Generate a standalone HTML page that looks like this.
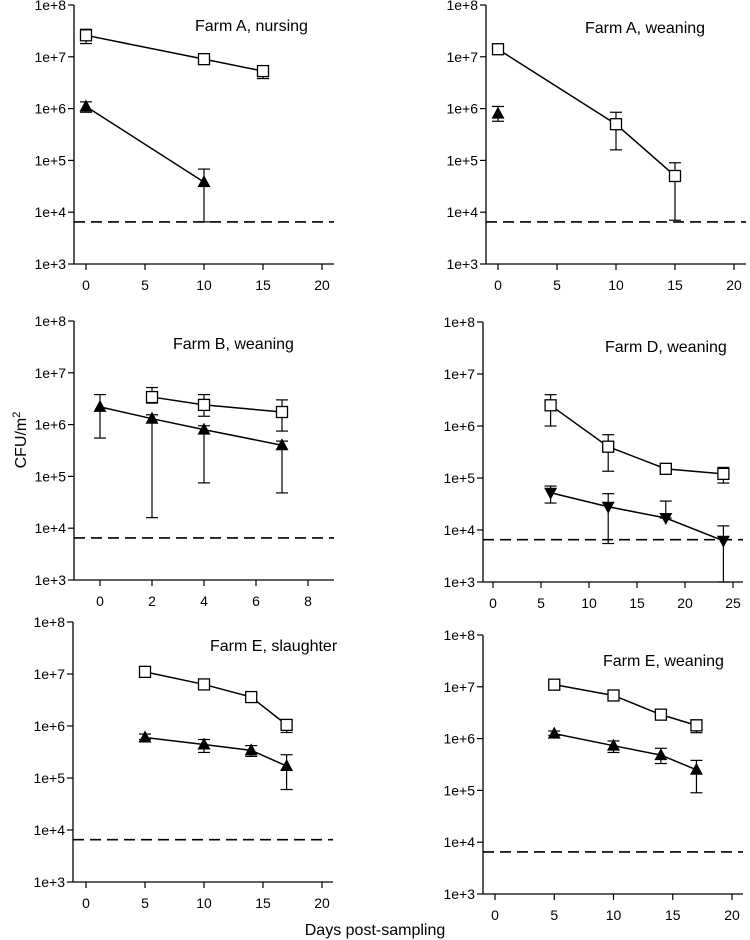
<!DOCTYPE html>
<html><head><meta charset="utf-8"><style>
body{margin:0;background:#fff;}
svg{display:block;font-family:"Liberation Sans",sans-serif;}
</style></head><body>
<svg id="chart" width="750" height="940" viewBox="0 0 750 940">
<text x="375" y="935" text-anchor="middle" font-size="16">Days post-sampling</text>
<text transform="translate(26,440) rotate(-90)" text-anchor="middle" font-size="16">CFU/m<tspan dy="-6" font-size="11">2</tspan></text>
</svg>
<script>
// ---- data (days, CFU/m2) ----
const detectionLimit = 6500;
const yTickLabels = ["1e+3","1e+4","1e+5","1e+6","1e+7","1e+8"];

const aNursSqX = [0,10,15];
const aNursSqY = [2.6e7,9e6,5.3e6];
const aNursSqLo = [1.8e7,7.5e6,3.8e6];
const aNursSqHi = [3.4e7,1.05e7,6.5e6];
const aNursTrX = [0,10];
const aNursTrY = [1.1e6,3.8e4];
const aNursTrLo = [8.5e5,6.5e3];
const aNursTrHi = [1.35e6,6.8e4];

const aWeanSqX = [0,10,15];
const aWeanSqY = [1.4e7,5e5,5e4];
const aWeanSqLo = [1.3e7,1.6e5,7e3];
const aWeanSqHi = [1.5e7,8.5e5,9e4];
const aWeanTrX = [0];
const aWeanTrY = [8e5];
const aWeanTrLo = [5.7e5];
const aWeanTrHi = [1.1e6];

const bWeanSqX = [2,4,7];
const bWeanSqY = [3.4e6,2.4e6,1.75e6];
const bWeanSqLo = [2.6e6,1.45e6,7.5e5];
const bWeanSqHi = [5.2e6,3.8e6,3e6];
const bWeanTrX = [0,2,4,7];
const bWeanTrY = [2.2e6,1.3e6,8e5,4e5];
const bWeanTrLo = [5.5e5,1.6e4,7.5e4,4.8e4];
const bWeanTrHi = [3.8e6,1.55e6,9.5e5,4.8e5];

const dWeanSqX = [6,12,18,24];
const dWeanSqY = [2.5e6,4e5,1.5e5,1.2e5];
const dWeanSqLo = [1e6,1.35e5,1.4e5,8e4];
const dWeanSqHi = [4e6,6.8e5,1.6e5,1.6e5];
const dWeanTrX = [6,12,18,24];
const dWeanTrY = [5.2e4,2.8e4,1.7e4,6.2e3];
const dWeanTrLo = [3.3e4,5.5e3,1.7e4,1e3];
const dWeanTrHi = [7e4,5e4,3.6e4,1.2e4];

const eSlauSqX = [5,10,14,17];
const eSlauSqY = [1.1e7,6.3e6,3.6e6,1.05e6];
const eSlauSqLo = [1.05e7,6e6,3.2e6,7.5e5];
const eSlauSqHi = [1.15e7,6.6e6,4e6,1.3e6];
const eSlauTrX = [5,10,14,17];
const eSlauTrY = [6e5,4.4e5,3.4e5,1.7e5];
const eSlauTrLo = [5.5e5,3.1e5,2.6e5,6e4];
const eSlauTrHi = [7e5,5.5e5,4.2e5,2.8e5];

const eWeanSqX = [5,10,14,17];
const eWeanSqY = [1.1e7,6.8e6,2.9e6,1.8e6];
const eWeanSqLo = [1.05e7,6.4e6,2.7e6,1.3e6];
const eWeanSqHi = [1.15e7,7.2e6,3.1e6,2.3e6];
const eWeanTrX = [5,10,14,17];
const eWeanTrY = [1.25e6,7.3e5,4.8e5,2.5e5];
const eWeanTrLo = [1.15e6,5.4e5,3.3e5,9e4];
const eWeanTrHi = [1.4e6,9e5,6.5e5,3.8e5];

const NS = "http://www.w3.org/2000/svg";
const svg = document.getElementById("chart");
function mk(tag, attrs, parent){
  const e = document.createElementNS(NS, tag);
  for (const k in attrs) e.setAttribute(k, attrs[k]);
  (parent||svg).appendChild(e);
  return e;
}

function panel(p){
  const g = mk("g", {});
  
  
  const yS = v => p.bot - (Math.log10(v) - 3) / 5 * (p.bot - p.top);
  const xS = v => p.x0 + (v - p.xTicks[0]) / (p.xTicks[p.xTicks.length-1] - p.xTicks[0]) * (p.x1 - p.x0);
  const ya = mk("line", {x1:p.ax, y1:p.top, x2:p.ax, y2:p.bot, stroke:"#000","stroke-width":1.3}, g);
  
  
  const xa = mk("line", {x1:p.ax, y1:p.bot, x2:p.axEnd, y2:p.bot, stroke:"#000","stroke-width":1.3}, g);
  
  
  yTickLabels.forEach((lab, i) => {
    const y = yS(Math.pow(10, i+3));
    mk("line", {x1:p.ax-6, y1:y, x2:p.ax, y2:y, stroke:"#000","stroke-width":1.2}, g);
    const t = mk("text", {x:p.ax-8, y:y+5, "text-anchor":"end","font-size":14}, g);
    t.textContent = lab;
    
    
  });
  p.xTicks.forEach(v => {
    const x = xS(v);
    mk("line", {x1:x, y1:p.bot, x2:x, y2:p.bot+6, stroke:"#000","stroke-width":1.2}, g);
    const t = mk("text", {x:x, y:p.bot+26, "text-anchor":"middle","font-size":14}, g);
    t.textContent = v;
    
    
  });
  const dl = mk("line", {x1:p.ax, y1:yS(detectionLimit), x2:p.axEnd, y2:yS(detectionLimit), stroke:"#000","stroke-width":1.6,"stroke-dasharray":"11,6"}, g);
  
  
  const ti = mk("text", {x:p.tx, y:p.ty, "font-size":16}, g);
  ti.textContent = p.title;
  
  

  p.series.forEach(s => {
    s.x.forEach((xv, i) => {
      const x = xS(xv);
      const eb = mk("g", {stroke:"#000","stroke-width":1.2}, g);
      
      
      mk("line", {x1:x, y1:yS(s.lo[i]), x2:x, y2:yS(s.hi[i])}, eb);
      mk("line", {x1:x-6, y1:yS(s.lo[i]), x2:x+6, y2:yS(s.lo[i])}, eb);
      mk("line", {x1:x-6, y1:yS(s.hi[i]), x2:x+6, y2:yS(s.hi[i])}, eb);
    });
    if (s.x.length > 1) {
      const pl = mk("polyline", {points:s.x.map((xv,i)=>xS(xv)+","+yS(s.y[i])).join(" "), fill:"none", stroke:"#000","stroke-width":1.5}, g);
      
      
    }
    s.x.forEach((xv, i) => {
      const x = xS(xv), y = yS(s.y[i]);
      let m;
      if (s.kind === "sq") {
        m = mk("rect", {x:x-5.5, y:y-5.5, width:11, height:11, fill:"#fff", stroke:"#000","stroke-width":1.3}, g);
      } else if (s.kind === "tri") {
        m = mk("polygon", {points:`${x},${y-7} ${x-6.5},${y+5} ${x+6.5},${y+5}`, fill:"#000"}, g);
      } else {
        m = mk("polygon", {points:`${x},${y+7} ${x-6.5},${y-5} ${x+6.5},${y-5}`, fill:"#000"}, g);
      }
      
      
    });
  });
}

panel({name:"panel-farm-a-nursing", title:"Farm A, nursing", tx:195, ty:31, ax:74, axEnd:334, top:5, bot:264, x0:86, x1:322, xTicks:[0,5,10,15,20],
  series:[{kind:"sq",x:aNursSqX,y:aNursSqY,lo:aNursSqLo,hi:aNursSqHi},{kind:"tri",x:aNursTrX,y:aNursTrY,lo:aNursTrLo,hi:aNursTrHi}]});
panel({name:"panel-farm-a-weaning", title:"Farm A, weaning", tx:585, ty:33, ax:486, axEnd:746, top:5, bot:264, x0:498, x1:734, xTicks:[0,5,10,15,20],
  series:[{kind:"sq",x:aWeanSqX,y:aWeanSqY,lo:aWeanSqLo,hi:aWeanSqHi},{kind:"tri",x:aWeanTrX,y:aWeanTrY,lo:aWeanTrLo,hi:aWeanTrHi}]});
panel({name:"panel-farm-b-weaning", title:"Farm B, weaning", tx:173, ty:349, ax:74, axEnd:334, top:321, bot:580, x0:100, x1:308, xTicks:[0,2,4,6,8],
  series:[{kind:"sq",x:bWeanSqX,y:bWeanSqY,lo:bWeanSqLo,hi:bWeanSqHi},{kind:"tri",x:bWeanTrX,y:bWeanTrY,lo:bWeanTrLo,hi:bWeanTrHi}]});
panel({name:"panel-farm-d-weaning", title:"Farm D, weaning", tx:605, ty:352, ax:483, axEnd:743, top:322, bot:582, x0:493, x1:733, xTicks:[0,5,10,15,20,25],
  series:[{kind:"sq",x:dWeanSqX,y:dWeanSqY,lo:dWeanSqLo,hi:dWeanSqHi},{kind:"dtri",x:dWeanTrX,y:dWeanTrY,lo:dWeanTrLo,hi:dWeanTrHi}]});
panel({name:"panel-farm-e-slaughter", title:"Farm E, slaughter", tx:210, ty:651, ax:73, axEnd:333, top:622, bot:882, x0:86, x1:322, xTicks:[0,5,10,15,20],
  series:[{kind:"sq",x:eSlauSqX,y:eSlauSqY,lo:eSlauSqLo,hi:eSlauSqHi},{kind:"tri",x:eSlauTrX,y:eSlauTrY,lo:eSlauTrLo,hi:eSlauTrHi}]});
panel({name:"panel-farm-e-weaning", title:"Farm E, weaning", tx:603, ty:666, ax:483, axEnd:743, top:635, bot:894, x0:495, x1:732, xTicks:[0,5,10,15,20],
  series:[{kind:"sq",x:eWeanSqX,y:eWeanSqY,lo:eWeanSqLo,hi:eWeanSqHi},{kind:"tri",x:eWeanTrX,y:eWeanTrY,lo:eWeanTrLo,hi:eWeanTrHi}]});
</script>
</body></html>
